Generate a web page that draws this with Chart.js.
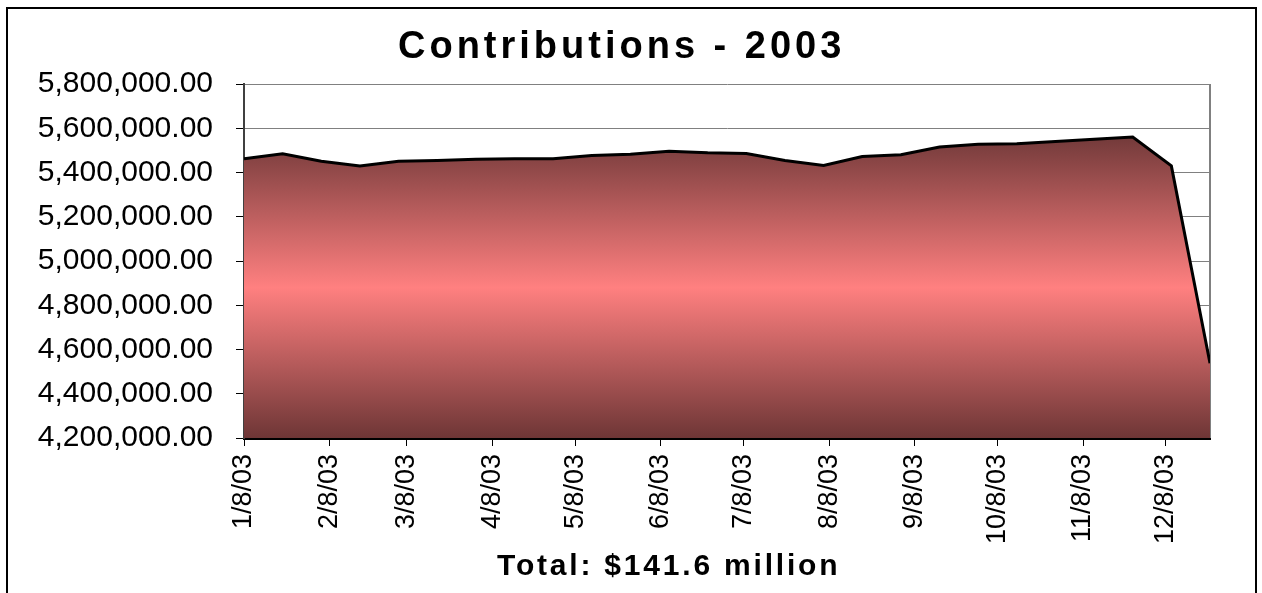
<!DOCTYPE html>
<html>
<head>
<meta charset="utf-8">
<title>Contributions - 2003</title>
<script src="https://cdn.jsdelivr.net/npm/chart.js@4.4.1/dist/chart.umd.min.js"></script>
<style>
    html, body { margin: 0; padding: 0; background: #fff; overflow: hidden; }
    #contenedor { position: relative; width: 1262px; height: 593px; }
    #marco { position: absolute; left: 6px; top: 7px; width: 1251px; height: 640px; border: 2px solid #000; box-sizing: border-box; }
    #grafico { position: absolute; left: 0; top: 0; }
    .texto { position: absolute; font-family: "Liberation Sans", Arial, sans-serif; font-weight: bold; color: #000; white-space: nowrap; }
    #titulo { left: 398px; top: 24px; font-size: 38px; letter-spacing: 4px; }
    #total { left: 497px; top: 548px; font-size: 30px; letter-spacing: 2.8px; }
</style>
</head>
<body>
<div id="contenedor">
    <div id="marco"></div>
    <canvas id="grafico" width="1262" height="593"></canvas>
    <div id="titulo" class="texto">Contributions - 2003</div>
    <div id="total" class="texto">Total: $141.6 million</div>
</div>
<script>
// Fechas de cada aporte (cada dos semanas)
const fechas = [
    '2003-01-08', '2003-01-22', '2003-02-05', '2003-02-19', '2003-03-05', '2003-03-19',
    '2003-04-02', '2003-04-16', '2003-04-30', '2003-05-14', '2003-05-28', '2003-06-11',
    '2003-06-25', '2003-07-09', '2003-07-23', '2003-08-06', '2003-08-20', '2003-09-03',
    '2003-09-17', '2003-10-01', '2003-10-15', '2003-10-29', '2003-11-12', '2003-11-26',
    '2003-12-10', '2003-12-24'
];
const aportes = [
    5462000, 5485000, 5451000, 5429000, 5451000, 5454000,
    5460000, 5462000, 5462000, 5477000, 5483000, 5496000,
    5489000, 5486000, 5454000, 5432000, 5472000, 5480000,
    5515000, 5528000, 5530000, 5540000, 5550000, 5560000,
    5430000, 4538000
];
// Marcas del eje x
const fechasMarcas = [
    '2003-01-08', '2003-02-08', '2003-03-08', '2003-04-08', '2003-05-08', '2003-06-08',
    '2003-07-08', '2003-08-08', '2003-09-08', '2003-10-08', '2003-11-08', '2003-12-08'
];
const etiquetasX = [
    '1/8/03', '2/8/03', '3/8/03', '4/8/03', '5/8/03', '6/8/03',
    '7/8/03', '8/8/03', '9/8/03', '10/8/03', '11/8/03', '12/8/03'
];
const marcasY = [4200000, 4400000, 4600000, 4800000, 5000000, 5200000, 5400000, 5600000, 5800000];

const fuente = '"Liberation Sans", Arial, sans-serif';
const formato = new Intl.NumberFormat('en-US', { minimumFractionDigits: 2, maximumFractionDigits: 2 });

// dias desde la primera fecha
function dia(f) {
    return (Date.parse(f) - Date.parse(fechas[0])) / 86400000;
}

function gradiente(context) {
    const chart = context.chart;
    const area = chart.chartArea;
    if (!area) return '#ff8080';
    const arriba = chart.scales.y.getPixelForValue(Math.max(...aportes));
    const g = chart.ctx.createLinearGradient(0, arriba, 0, area.bottom);
    g.addColorStop(0, '#733a3a');
    g.addColorStop(0.5, '#ff8080');
    g.addColorStop(1, '#6e3636');
    return g;
}

// borde derecho gris del area de trazado
const bordeDerecho = {
    id: 'bordeDerecho',
    beforeDatasetsDraw(chart) {
        const { ctx, chartArea } = chart;
        ctx.save();
        ctx.strokeStyle = '#808080';
        ctx.lineWidth = 2;
        ctx.beginPath();
        ctx.moveTo(chartArea.right, chartArea.top);
        ctx.lineTo(chartArea.right, chartArea.bottom);
        ctx.stroke();
        ctx.restore();
    }
};

const ctx = document.getElementById('grafico').getContext('2d');
new Chart(ctx, {
    type: 'line',
    data: {
        datasets: [{
            data: fechas.map((f, i) => ({ x: dia(f), y: aportes[i] })),
            borderColor: '#000',
            borderWidth: 3,
            pointRadius: 0,
            tension: 0,
            fill: 'start',
            backgroundColor: gradiente
        }]
    },
    options: {
        responsive: false,
        animation: false,
        layout: { padding: { left: 0, top: 84, right: 52, bottom: 0 } },
        plugins: {
            legend: { display: false },
            tooltip: { enabled: false }
        },
        scales: {
            x: {
                type: 'linear',
                min: dia(fechas[0]),
                max: dia(fechas[fechas.length - 1]),
                afterBuildTicks: (escala) => {
                    escala.ticks = fechasMarcas.map(f => ({ value: dia(f) }));
                },
                afterFit: (escala) => { escala.height = 155; },
                ticks: {
                    autoSkip: false,
                    minRotation: 90,
                    maxRotation: 90,
                    padding: 8,
                    color: '#000',
                    font: { family: fuente, size: 27 },
                    callback: (v, i) => etiquetasX[i]
                },
                grid: { drawOnChartArea: false, tickLength: 8, tickColor: '#000', tickWidth: 1 },
                border: { color: '#000', width: 3 }
            },
            y: {
                min: marcasY[0],
                max: marcasY[marcasY.length - 1],
                afterBuildTicks: (escala) => {
                    escala.ticks = marcasY.map(v => ({ value: v }));
                },
                afterFit: (escala) => { escala.width = 244; },
                ticks: {
                    padding: 23,
                    color: '#000',
                    font: { family: fuente, size: 30 },
                    callback: (v) => formato.format(v)
                },
                grid: { color: '#808080', lineWidth: 1, tickLength: 8, tickColor: '#000' },
                border: { color: '#404040', width: 2 }
            }
        }
    },
    plugins: [bordeDerecho]
});
</script>
</body>
</html>
